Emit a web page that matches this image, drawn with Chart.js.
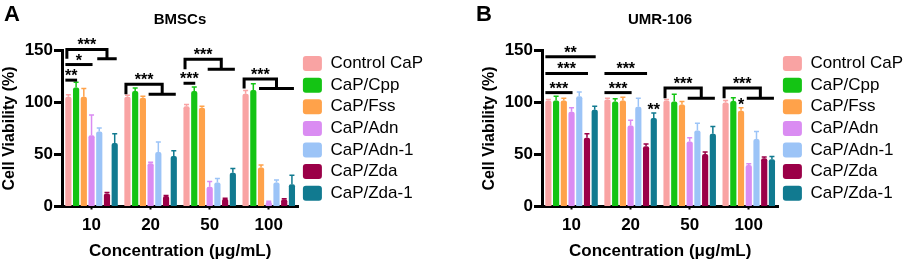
<!DOCTYPE html>
<html>
<head>
<meta charset="utf-8">
<script src="https://cdn.jsdelivr.net/npm/chart.js@4.4.1/dist/chart.umd.min.js"></script>
<style>
  body { margin: 0; width: 913px; height: 262px; overflow: hidden; background: #fff; position: relative;
         font-family: "Liberation Sans", Arial, sans-serif; }
  .panel { position: absolute; top: 0; width: 433px; height: 262px; }
  .letter { position: absolute; top: 3px; font-size: 22px; line-height: 22px; font-weight: bold; }
  .title { position: absolute; top: 11px; width: 200px; text-align: center; font-size: 15px; line-height: 15px; font-weight: bold; }
</style>
</head>
<body>
<div class="panel" style="left:0"><canvas id="chartA"></canvas></div>
<div class="panel" style="left:480px"><canvas id="chartB"></canvas></div>
<div class="letter" style="left:4px">A</div>
<div class="letter" style="left:476px">B</div>
<div class="title" style="left:80px">BMSCs</div>
<div class="title" style="left:560px">UMR-106</div>
<script>
// categories and series
const concentrations = ["10", "20", "50", "100"];
const groupNames = ["Control CaP", "CaP/Cpp", "CaP/Fss", "CaP/Adn", "CaP/Adn-1", "CaP/Zda", "CaP/Zda-1"];
const barColors = ["#F9A3A3", "#14C414", "#FFA24A", "#DA8CF2", "#9CC4F7", "#9B0048", "#117A90"];

// BMSCs: mean cell viability (%) per series, one value per concentration
const bmscMeans = [
  [105.5, 105.5, 96.5, 108.5],
  [114.5, 111, 111, 112],
  [105.5, 104.5, 95, 37.5],
  [68.5, 41.5, 19, 4.5],
  [72, 52.5, 23, 23],
  [12.5, 10, 7.5, 7],
  [61, 48.5, 32.5, 21.5]
];
const bmscErrors = [
  [2, 1.5, 1.5, 3],
  [5, 3, 4, 6],
  [8, 1.5, 1.5, 2.5],
  [19.5, 1, 5, 0.5],
  [3.5, 9.5, 4, 2.5],
  [1, 0.5, 0.5, 0.5],
  [9, 5, 4, 8.5]
];

// UMR-106
const umrMeans = [
  [102, 103, 102, 100],
  [102, 101, 101, 101.5],
  [102, 102, 98, 92],
  [91, 78, 62.5, 40],
  [106, 96, 73, 65],
  [66, 58, 50.5, 46.5],
  [93, 85, 70, 45.5]
];
const umrErrors = [
  [1, 1, 1, 2],
  [4, 2.5, 7, 3],
  [2, 3, 3, 3],
  [4, 5, 3.5, 1],
  [4, 8, 7, 7],
  [4, 2, 2, 1],
  [3.5, 5, 7, 2.5]
];

// significance marks: group index, bar indices, level on the y scale
const bmscLines = [
  { g: 0, from: 0, to: 1, level: 121.5, label: "**" },
  { g: 0, from: 0, to: 3, level: 136.5, label: "*" },
  { g: 2, from: 0, to: 1, level: 118.5, label: "***" }
];
const bmscTrees = [
  { g: 0, a: 0, from: 4, to: 6, top: 151, low: 142, label: "***" },
  { g: 1, a: 0, from: 3, to: 6, top: 117.5, low: 108, label: "***" },
  { g: 2, a: 0, from: 3, to: 6, top: 141.5, low: 132, label: "***" },
  { g: 3, a: 0, from: 2, to: 6, top: 122.5, low: 113.5, label: "***" }
];
const umrLines = [
  { g: 0, from: 0, to: 6, level: 144, label: "**" },
  { g: 0, from: 0, to: 5, level: 128, label: "***" },
  { g: 0, from: 0, to: 3, level: 109.5, label: "***" },
  { g: 1, from: 0, to: 5, level: 128, label: "***" },
  { g: 1, from: 0, to: 3, level: 109.5, label: "***" }
];
const umrTrees = [
  { g: 2, a: 0, from: 3, to: 6, top: 114, low: 104, label: "***" },
  { g: 3, a: 0, from: 3, to: 6, top: 114, low: 104, label: "***" }
];
const umrStars = [
  { g: 1, s: 6, label: "**" },
  { g: 3, s: 2, label: "*" }
];

const FONT = '"Liberation Sans", Arial, sans-serif';

// error bars + significance brackets
const sigPlugin = {
  id: "sigMarks",
  afterDatasetsDraw(chart, args, opts) {
    const ctx = chart.ctx, y = chart.scales.y;
    ctx.save();
    ctx.lineWidth = 1.5;
    chart.data.datasets.forEach((ds, i) => {
      chart.getDatasetMeta(i).data.forEach((bar, g) => {
        const top = y.getPixelForValue(ds.data[g] + opts.errors[i][g]);
        ctx.strokeStyle = ds.backgroundColor;
        ctx.beginPath();
        ctx.moveTo(bar.x, bar.y);
        ctx.lineTo(bar.x, top);
        ctx.moveTo(bar.x - 2.5, top);
        ctx.lineTo(bar.x + 2.5, top);
        ctx.stroke();
      });
    });
    ctx.restore();
  },
  afterDraw(chart, args, opts) {
    const ctx = chart.ctx, y = chart.scales.y;
    const bx = (s, g) => chart.getDatasetMeta(s).data[g].x;
    ctx.save();
    ctx.strokeStyle = "#000";
    ctx.fillStyle = "#000";
    ctx.lineWidth = 3;
    ctx.font = "bold 16px " + FONT;
    ctx.textAlign = "center";
    ctx.textBaseline = "alphabetic";

    (opts.lines || []).forEach(l => {
      const x1 = bx(l.from, l.g) - 3, x2 = bx(l.to, l.g) + 1, py = y.getPixelForValue(l.level);
      ctx.beginPath();
      ctx.moveTo(x1, py);
      ctx.lineTo(x2, py);
      ctx.stroke();
      ctx.fillText(l.label, (x1 + x2) / 2, py + 1);
    });

    (opts.trees || []).forEach(t => {
      const xa = bx(t.a, t.g) - 1.5;
      const xf = bx(t.from, t.g) - 2, xt = bx(t.to, t.g) + 2;
      const xm = (bx(t.from, t.g) + bx(t.to, t.g)) / 2;
      const pt = y.getPixelForValue(t.top), pl = y.getPixelForValue(t.low);
      ctx.beginPath();
      ctx.moveTo(xa, pl);
      ctx.lineTo(xa, pt);
      ctx.lineTo(xm, pt);
      ctx.lineTo(xm, pl);
      ctx.moveTo(xf, pl);
      ctx.lineTo(xt, pl);
      ctx.stroke();
      ctx.fillText(t.label, (xa + xm) / 2, pt + 1);
    });

    (opts.stars || []).forEach(s => {
      const ds = chart.data.datasets[s.s];
      const py = y.getPixelForValue(ds.data[s.g] + opts.errors[s.s][s.g]);
      ctx.fillText(s.label, bx(s.s, s.g), py + 2.5);
    });
    ctx.restore();
  }
};

function makeChart(id, means, errors, marks) {
  new Chart(document.getElementById(id), {
    type: "bar",
    data: {
      labels: concentrations,
      datasets: groupNames.map((name, i) => ({
        label: name,
        data: means[i],
        backgroundColor: barColors[i],
        borderWidth: 0,
        borderRadius: { topLeft: 2, topRight: 2 },
        categoryPercentage: 0.915,
        barPercentage: 0.8
      }))
    },
    options: {
      responsive: true,
      maintainAspectRatio: false,
      animation: false,
      layout: { padding: { top: 50.5, right: 0, bottom: 0, left: 0 } },
      plugins: {
        tooltip: { enabled: false },
        legend: {
          position: "right",
          align: "start",
          maxWidth: 160,
          labels: {
            color: "#000",
            font: { family: FONT, size: 17 },
            boxWidth: 19,
            boxHeight: 15,
            padding: 4.6,
            useBorderRadius: true,
            borderRadius: 3
          }
        },
        sigMarks: Object.assign({ errors: errors }, marks)
      },
      scales: {
        x: {
          afterFit: s => { s.height = 55.5; },
          grid: { drawOnChartArea: false, offset: false, tickLength: 3, tickWidth: 2, tickColor: "#000" },
          border: { color: "#000", width: 3 },
          ticks: { color: "#000", padding: 6, font: { family: FONT, size: 17, weight: "bold" } },
          title: {
            display: true,
            text: "Concentration (\u03bcg/mL)",
            color: "#000",
            padding: 0,
            font: { family: FONT, size: 17, weight: "bold" }
          }
        },
        y: {
          min: 0,
          max: 150,
          afterFit: s => { s.width = 62; },
          grid: { drawOnChartArea: false, tickLength: 8, tickWidth: 3, tickColor: "#000" },
          border: { color: "#000", width: 3 },
          ticks: { stepSize: 50, color: "#000", padding: 1, font: { family: FONT, size: 17, weight: "bold" } },
          title: {
            display: true,
            text: "Cell Viability (%)",
            color: "#000",
            padding: 0,
            font: { family: FONT, size: 16, weight: "bold" }
          }
        }
      }
    },
    plugins: [sigPlugin]
  });
}

makeChart("chartA", bmscMeans, bmscErrors, { lines: bmscLines, trees: bmscTrees });
makeChart("chartB", umrMeans, umrErrors, { lines: umrLines, trees: umrTrees, stars: umrStars });
</script>
</body>
</html>
